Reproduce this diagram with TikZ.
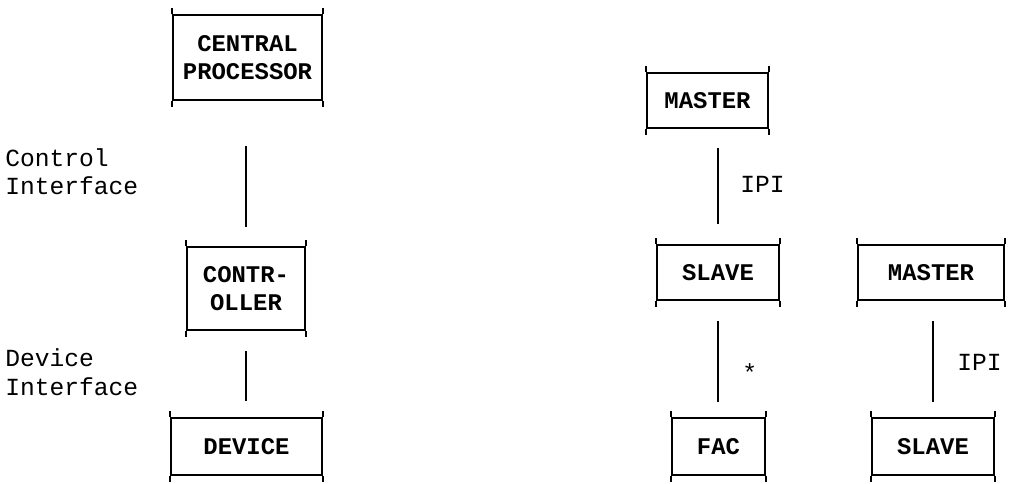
\documentclass[tikz,border=0pt]{standalone}
\usepackage{fontspec}
\setmainfont{Liberation Mono}
\usetikzlibrary{positioning}
\tikzset{
  box/.style ={draw, line width=1.1pt, inner sep=0pt, align=center,
               font=\fontsize{17}{20}\selectfont\bfseries},
  link/.style={draw, line width=1.1pt},
  tag/.style ={inner sep=0pt, anchor=base west, align=left,
               font=\fontsize{17.5}{20}\selectfont}
}

\begin{document}
\begin{tikzpicture}[x=0.025cm, y=-0.025cm]
\useasboundingbox (0,0) rectangle (1010,484);
% left: processor, controller, device
\node[box, minimum width=3.725cm, minimum height=2.125cm] (cpu)  at (247.5,57.5)
  {CENTRAL\\PROCESSOR};
\node[box, minimum width=2.95cm,  minimum height=2.075cm] (ctrl) at (246,288.5)
  {CONTR-\\OLLER};
\node[box, minimum width=3.775cm, minimum height=1.425cm] (dev)  at (246.5,446.5)
  {DEVICE};
% right: master/slave chains
\node[box, minimum width=3.025cm, minimum height=1.375cm] (mst1) at (707.5,100.5) {MASTER};
\node[box, minimum width=3.05cm,  minimum height=1.375cm] (slv1) at (718,272.5)   {SLAVE};
\node[box, minimum width=3.65cm,  minimum height=1.375cm] (mst2) at (931,272.5)   {MASTER};
\node[box, minimum width=2.325cm, minimum height=1.425cm] (fac)  at (718.5,446.5) {FAC};
\node[box, minimum width=3.05cm,  minimum height=1.425cm] (slv2) at (933,446.5)   {SLAVE};

\node[tag] (ctlif) at (5,195)   {Control\\Interface};
\node[tag] (devif) at (5,395)   {Device\\Interface};
\node[tag] (ipi1)  at (740,193) {IPI};
\node[tag] (star)  at (742,381) {*};
\node[tag] (ipi2)  at (957,370) {IPI};

\draw[link, shorten <=1.125cm, shorten >=0.475cm] (ctrl.north |- cpu.south) -- (ctrl.north);
\draw[link, shorten <=0.5cm,   shorten >=0.4cm]   (ctrl.south) -- (ctrl.south |- dev.north);
\draw[link, shorten <=0.475cm, shorten >=0.5cm]   (slv1.north |- mst1.south) -- (slv1.north);
\draw[link, shorten <=0.5cm,   shorten >=0.375cm] (slv1.south) -- (slv1.south |- fac.north);
\draw[link, shorten <=0.5cm,   shorten >=0.375cm] (slv2.north |- mst2.south) -- (slv2.north);

% the + marks at the corners
\foreach \n in {cpu,ctrl,dev,mst1,slv1,mst2,fac,slv2}{
  \draw[link] (\n.north west) -- ++(0,-6);
  \draw[link] (\n.north east) -- ++(0,-6);
  \draw[link] (\n.south west) -- ++(0,6);
  \draw[link] (\n.south east) -- ++(0,6);
}
\end{tikzpicture}
\end{document}
